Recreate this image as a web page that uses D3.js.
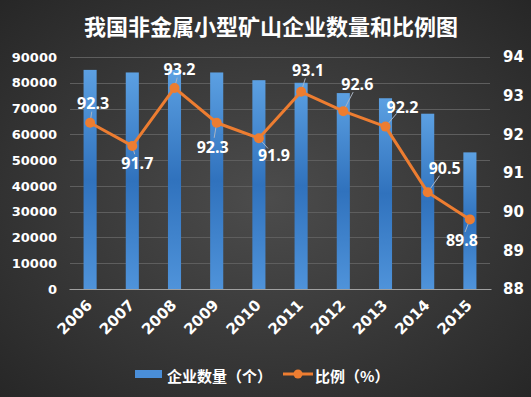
<!DOCTYPE html>
<html>
<head>
<meta charset="utf-8">
<script src="https://cdn.jsdelivr.net/npm/d3@7"></script>
<style>
  html, body { margin: 0; padding: 0; background: #2b2b2b; }
  svg { display: block; }
</style>
</head>
<body>
<div id="chart"></div>
<script>
// data
const years = ["2006", "2007", "2008", "2009", "2010", "2011", "2012", "2013", "2014", "2015"];
const counts = [85000, 84000, 85000, 84000, 81000, 80000, 76000, 74000, 68000, 53000];
const ratios = [92.3, 91.7, 93.2, 92.3, 91.9, 93.1, 92.6, 92.2, 90.5, 89.8];
const leftTicks = [0, 10000, 20000, 30000, 40000, 50000, 60000, 70000, 80000, 90000];
const rightTicks = [88, 89, 90, 91, 92, 93, 94];

// where each ratio label sits relative to its point (layout, not data)
const labelOffsets = [[3, -20], [5, 17], [5, -19], [-4, 24], [15, 17], [7, -22], [14, -27], [17, -20], [17, -24], [-8, 21]];

const width = 531, height = 397;
const margin = { top: 57, right: 40, bottom: 108, left: 69 };

const svg = d3.select("#chart").append("svg")
    .attr("width", width)
    .attr("height", height);

const defs = svg.append("defs");

// dark background, lighter in the middle
const bg = defs.append("radialGradient")
    .attr("id", "bg")
    .attr("cx", "50%").attr("cy", "50%").attr("r", "72%");
bg.append("stop").attr("offset", "0%").attr("stop-color", "#4c4c4c");
bg.append("stop").attr("offset", "100%").attr("stop-color", "#262626");

// bars get darker towards the middle
const barGrad = defs.append("linearGradient")
    .attr("id", "barGrad")
    .attr("x1", 0).attr("y1", 0).attr("x2", 0).attr("y2", 1);
barGrad.append("stop").attr("offset", "0%").attr("stop-color", "#5ca0e2");
barGrad.append("stop").attr("offset", "50%").attr("stop-color", "#3072bd");
barGrad.append("stop").attr("offset", "100%").attr("stop-color", "#4f93da");

svg.append("rect")
    .attr("width", width)
    .attr("height", height)
    .attr("fill", "url(#bg)");

const x = d3.scaleBand()
    .domain(years)
    .range([margin.left, width - margin.right])
    .paddingInner(0.69)
    .paddingOuter(0.345);

const yLeft = d3.scaleLinear()
    .domain([0, 90000])
    .range([height - margin.bottom, margin.top]);

const yRight = d3.scaleLinear()
    .domain([88, 94])
    .range([height - margin.bottom, margin.top]);

// title
svg.append("text")
    .attr("x", 271)
    .attr("y", 25)
    .attr("text-anchor", "middle")
    .attr("dominant-baseline", "central")
    .attr("fill", "#ffffff")
    .style("font-family", "'Noto Sans CJK SC', sans-serif")
    .style("font-weight", "bold")
    .style("font-size", "22px")
    .text("我国非金属小型矿山企业数量和比例图");

// gridlines
svg.append("g")
    .selectAll("line")
    .data(leftTicks.slice(1))
    .enter().append("line")
    .attr("x1", margin.left + 1)
    .attr("x2", width - margin.right - 1)
    .attr("y1", d => Math.round(yLeft(d)) + 0.5)
    .attr("y2", d => Math.round(yLeft(d)) + 0.5)
    .attr("stroke", "#5e5e5e")
    .attr("stroke-width", 1);

// left axis
const leftAxis = svg.append("g")
    .attr("transform", `translate(${margin.left},0)`)
    .call(d3.axisLeft(yLeft).tickValues(leftTicks).tickSize(0).tickPadding(12).tickFormat(d3.format("d")));
leftAxis.select(".domain").remove();
leftAxis.selectAll("text")
    .attr("fill", "#ffffff")
    .style("font-family", "'DejaVu Sans', sans-serif")
    .style("font-weight", "bold")
    .style("font-size", "13px");

// right axis
const rightAxis = svg.append("g")
    .attr("transform", `translate(${width - margin.right},0)`)
    .call(d3.axisRight(yRight).tickValues(rightTicks).tickSize(0).tickPadding(12).tickFormat(d3.format("d")));
rightAxis.select(".domain").remove();
rightAxis.selectAll("text")
    .attr("fill", "#ffffff")
    .style("font-family", "'DejaVu Sans', sans-serif")
    .style("font-weight", "bold")
    .style("font-size", "15px");

// bars
svg.append("g")
    .selectAll("rect")
    .data(counts)
    .enter().append("rect")
    .attr("x", (d, i) => x(years[i]))
    .attr("y", d => yLeft(d))
    .attr("width", x.bandwidth())
    .attr("height", d => yLeft(0) - yLeft(d))
    .attr("fill", "url(#barGrad)");

// x axis line + labels
const xAxis = svg.append("g")
    .attr("transform", `translate(0,${height - margin.bottom})`)
    .call(d3.axisBottom(x).tickSize(0).tickPadding(0));
xAxis.select(".domain")
    .attr("stroke", "#a0a0a0")
    .attr("stroke-width", 1);
xAxis.selectAll("text")
    .attr("text-anchor", "end")
    .attr("dy", null)
    .attr("transform", "translate(3,17) rotate(-45)")
    .attr("fill", "#ffffff")
    .style("font-family", "'DejaVu Sans', sans-serif")
    .style("font-weight", "bold")
    .style("font-size", "15px");

// ratio line
const cx = i => x(years[i]) + x.bandwidth() / 2;
const line = d3.line()
    .x((d, i) => cx(i))
    .y(d => yRight(d));

svg.append("path")
    .datum(ratios)
    .attr("d", line)
    .attr("fill", "none")
    .attr("stroke", "#ed7d31")
    .attr("stroke-width", 3)
    .attr("stroke-linejoin", "round");

// leader lines
svg.append("g")
    .selectAll("line")
    .data(ratios)
    .enter().append("line")
    .attr("x1", (d, i) => cx(i))
    .attr("y1", d => yRight(d))
    .attr("x2", (d, i) => {
        const [dx, dy] = labelOffsets[i];
        const L = Math.hypot(dx, dy);
        return cx(i) + dx * (L - 9) / L;
    })
    .attr("y2", (d, i) => {
        const [dx, dy] = labelOffsets[i];
        const L = Math.hypot(dx, dy);
        return yRight(d) + dy * (L - 9) / L;
    })
    .attr("stroke", "#a9b4c4")
    .attr("stroke-width", 1);

svg.append("g")
    .selectAll("circle")
    .data(ratios)
    .enter().append("circle")
    .attr("cx", (d, i) => cx(i))
    .attr("cy", d => yRight(d))
    .attr("r", 5)
    .attr("fill", "#ed7d31");

// data labels
svg.append("g")
    .selectAll("text")
    .data(ratios)
    .enter().append("text")
    .attr("x", (d, i) => cx(i) + labelOffsets[i][0])
    .attr("y", (d, i) => yRight(d) + labelOffsets[i][1])
    .attr("text-anchor", "middle")
    .attr("dominant-baseline", "central")
    .attr("fill", "#ffffff")
    .style("font-family", "'Open Sans', sans-serif")
    .style("font-weight", "bold")
    .style("font-size", "16px")
    .text(d => d.toFixed(1));

// legend
const legend = svg.append("g");
legend.append("rect")
    .attr("x", 135).attr("y", 370)
    .attr("width", 27).attr("height", 8)
    .attr("fill", "#4a8ed8");
legend.append("text")
    .attr("x", 167).attr("y", 375)
    .attr("dominant-baseline", "central")
    .attr("fill", "#ffffff")
    .style("font-family", "'Noto Sans CJK SC', sans-serif")
    .style("font-weight", "bold")
    .style("font-size", "15px")
    .text("企业数量（个）");
legend.append("line")
    .attr("x1", 283).attr("x2", 313)
    .attr("y1", 374).attr("y2", 374)
    .attr("stroke", "#ed7d31")
    .attr("stroke-width", 3);
legend.append("circle")
    .attr("cx", 298).attr("cy", 374)
    .attr("r", 4.5)
    .attr("fill", "#ed7d31");
legend.append("text")
    .attr("x", 315).attr("y", 375)
    .attr("dominant-baseline", "central")
    .attr("fill", "#ffffff")
    .style("font-family", "'Noto Sans CJK SC', sans-serif")
    .style("font-weight", "bold")
    .style("font-size", "15px")
    .text("比例（%）");
</script>
</body>
</html>
